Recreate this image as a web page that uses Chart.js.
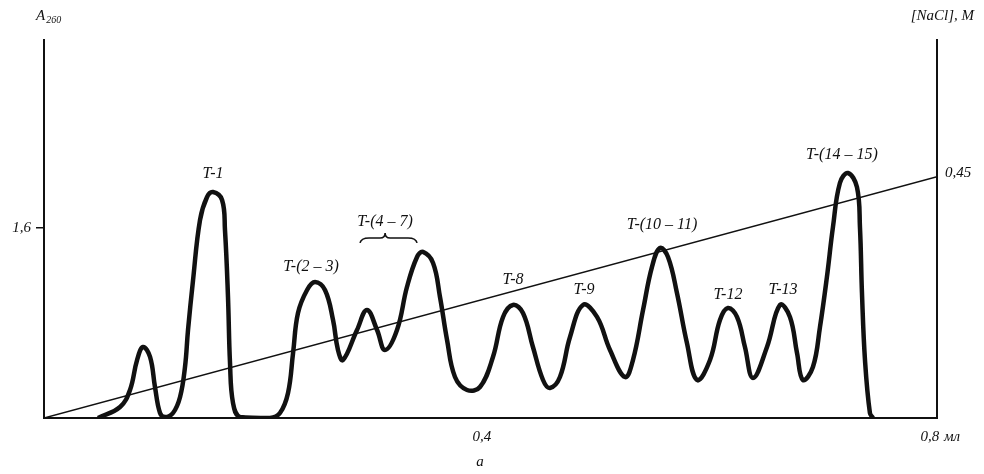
<!DOCTYPE html>
<html><head><meta charset="utf-8">
<script src="https://cdn.jsdelivr.net/npm/chart.js@4.4.1/dist/chart.umd.min.js"></script>
<style>html,body{margin:0;padding:0;background:#fff;}#wrap{width:984px;height:474px;}</style>
</head><body><div id="wrap"><canvas id="c" width="984" height="474"></canvas></div>
<script>
// Elution volume (ml) and absorbance A260 of the chromatogram
const elutionVolume = [0.0571,0.0768,0.0857,0.0920,0.0973,0.1036,0.1080,0.1125,0.1170,0.1241,0.1304,0.1348,0.1375,0.1420,0.1482,0.1545,0.1598,0.1679,0.1705,0.1732,0.1750,0.1777,0.1839,0.2107,0.2196,0.2268,0.2313,0.2357,0.2438,0.2509,0.2598,0.2670,0.2714,0.2759,0.2884,0.2973,0.3063,0.3134,0.3241,0.3330,0.3420,0.3473,0.3563,0.3625,0.3688,0.3759,0.3866,0.3982,0.4098,0.4188,0.4277,0.4366,0.4455,0.4545,0.4607,0.4696,0.4786,0.4902,0.5027,0.5143,0.5277,0.5348,0.5438,0.5518,0.5589,0.5661,0.5741,0.5830,0.5920,0.6036,0.6125,0.6196,0.6277,0.6348,0.6420,0.6545,0.6661,0.6750,0.6813,0.6866,0.6955,0.7018,0.7080,0.7134,0.7196,0.7268,0.7348,0.7375,0.7393,0.7420,0.7464,0.7491];
const a260 = [0,0.093,0.236,0.488,0.598,0.514,0.261,0.042,0.008,0.042,0.177,0.429,0.741,1.162,1.667,1.861,1.903,1.836,1.583,1.019,0.463,0.126,0.008,0,0.042,0.211,0.547,0.884,1.078,1.145,1.078,0.825,0.573,0.488,0.741,0.909,0.741,0.573,0.741,1.103,1.356,1.398,1.305,1.019,0.657,0.345,0.236,0.261,0.514,0.851,0.952,0.884,0.598,0.320,0.253,0.345,0.682,0.952,0.851,0.573,0.345,0.488,0.909,1.272,1.432,1.356,1.053,0.632,0.320,0.488,0.825,0.926,0.851,0.598,0.337,0.598,0.952,0.851,0.547,0.320,0.429,0.766,1.187,1.608,1.979,2.063,1.945,1.608,1.053,0.488,0.042,0];
// NaCl gradient (M)
const naclVolume = [0.0089, 0.8063];
const naclConc = [0, 0.443];
// Peak labels
const peakNames = ['T-1','T-(2 – 3)','T-(4 – 7)','T-8','T-9','T-(10 – 11)','T-12','T-13','T-(14 – 15)'];
const peakLabelVolume = [0.1598,0.2473,0.3134,0.4277,0.4911,0.5607,0.6196,0.6688,0.7214];
const peakLabelA260 = [2.055,1.272,1.651,1.162,1.078,1.625,1.036,1.078,2.215];
// Group T-(4-7) brace span (ml) and its base height (A260)
const braceVolume = [0.2911, 0.342];
const braceA260 = 1.474;
// Axis ticks
const xTicks = [0.4, 0.8];
const yTicks = [1.6];
const y2Ticks = [0.45];

const FAM = '"Liberation Serif", "DejaVu Serif", serif';
const comma = v => String(v).replace('.', ',');

const annot = {
  id: 'annot',
  afterDraw(chart) {
    const {ctx, scales: {x, y}} = chart;
    ctx.save();
    ctx.fillStyle = '#111';
    ctx.strokeStyle = '#111';
    ctx.font = 'italic 16px ' + FAM;
    ctx.textAlign = 'center';
    ctx.textBaseline = 'middle';
    peakNames.forEach((n, i) => {
      ctx.fillText(n, x.getPixelForValue(peakLabelVolume[i]), y.getPixelForValue(peakLabelA260[i]));
    });
    // brace
    const b0 = x.getPixelForValue(braceVolume[0]), b1 = x.getPixelForValue(braceVolume[1]);
    const by = y.getPixelForValue(braceA260);
    const bm = b0 + (b1 - b0) * 0.44;
    ctx.lineWidth = 1.6;
    ctx.beginPath();
    ctx.moveTo(b0, by);
    ctx.quadraticCurveTo(b0 + 1, by - 5, b0 + 9, by - 5);
    ctx.lineTo(bm - 5, by - 5);
    ctx.quadraticCurveTo(bm, by - 5, bm, by - 10);
    ctx.quadraticCurveTo(bm, by - 5, bm + 5, by - 5);
    ctx.lineTo(b1 - 9, by - 5);
    ctx.quadraticCurveTo(b1 - 1, by - 5, b1, by);
    ctx.stroke();
    // axis titles
    ctx.textAlign = 'left';
    ctx.textBaseline = 'alphabetic';
    ctx.font = 'italic 15px ' + FAM;
    ctx.fillText('A', 36, 20);
    const aw = ctx.measureText('A').width;
    ctx.font = 'italic 10px ' + FAM;
    ctx.fillText('260', 36 + aw + 1, 23);
    ctx.font = 'italic 15px ' + FAM;
    ctx.textAlign = 'right';
    ctx.fillText('[NaCl], M', 974, 20);
    // unit on x axis
    ctx.textAlign = 'left';
    ctx.textBaseline = 'middle';
    ctx.fillText('мл', x.getPixelForValue(0.8) + 14, 437);
    // panel letter
    ctx.textAlign = 'center';
    ctx.fillText('а', 480, 462);
    ctx.restore();
  }
};

const tickFont = {family: FAM, size: 15, style: 'italic'};

new Chart(document.getElementById('c'), {
  type: 'line',
  data: {
    datasets: [
      {
        label: 'A260',
        data: elutionVolume.map((v, i) => ({x: v, y: a260[i]})),
        yAxisID: 'y',
        borderColor: '#111',
        borderWidth: 4.5,
        pointRadius: 0,
        fill: false,
        tension: 0.4
      },
      {
        label: '[NaCl]',
        data: naclVolume.map((v, i) => ({x: v, y: naclConc[i]})),
        yAxisID: 'y2',
        borderColor: '#111',
        borderWidth: 1.5,
        pointRadius: 0,
        fill: false,
        tension: 0
      }
    ]
  },
  options: {
    responsive: false,
    devicePixelRatio: 1,
    animation: false,
    events: [],
    layout: {padding: {top: 40, left: 0, right: 0, bottom: 0}},
    plugins: {legend: {display: false}, tooltip: {enabled: false}, title: {display: false}},
    scales: {
      x: {
        type: 'linear', min: 0.0089, max: 0.8063,
        afterFit: s => { s.height = 56; },
        afterBuildTicks: s => { s.ticks = xTicks.map(v => ({value: v})); },
        ticks: {callback: v => comma(v), font: tickFont, color: '#111', padding: 10, maxRotation: 0, autoSkip: false},
        grid: {display: true, drawOnChartArea: false, drawTicks: false, color: '#111'},
        border: {display: true, color: '#111', width: 2}
      },
      y: {
        type: 'linear', position: 'left', min: 0, max: 3.183,
        afterFit: s => { s.width = 44; },
        afterBuildTicks: s => { s.ticks = yTicks.map(v => ({value: v})); },
        ticks: {callback: v => comma(v), font: tickFont, color: '#111', padding: 5},
        grid: {display: true, drawOnChartArea: false, drawTicks: true, tickLength: 8, color: '#111', lineWidth: 1.5},
        border: {display: true, color: '#111', width: 2}
      },
      y2: {
        type: 'linear', position: 'right', min: 0, max: 0.694,
        afterFit: s => { s.width = 47; },
        afterBuildTicks: s => { s.ticks = y2Ticks.map(v => ({value: v})); },
        ticks: {callback: v => comma(v), font: tickFont, color: '#111', padding: 8},
        grid: {display: true, drawOnChartArea: false, drawTicks: false, color: '#111'},
        border: {display: true, color: '#111', width: 2}
      }
    }
  },
  plugins: [annot]
});
</script>
</body></html>
